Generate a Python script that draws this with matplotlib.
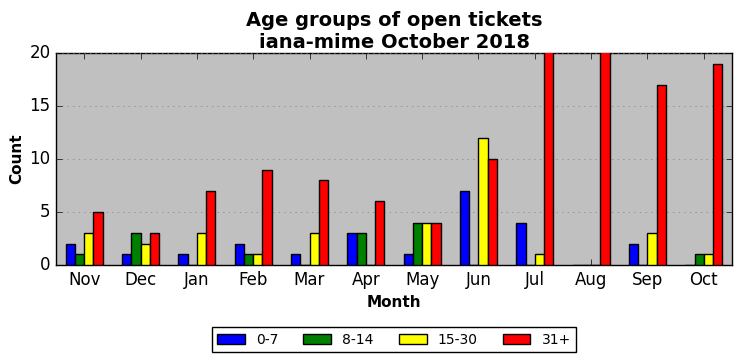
import matplotlib
matplotlib.use("Agg")
import matplotlib.pyplot as plt
import numpy as np

months = ["Nov", "Dec", "Jan", "Feb", "Mar", "Apr", "May", "Jun", "Jul", "Aug", "Sep", "Oct"]
age_0_7 = [2, 1, 1, 2, 1, 3, 1, 7, 4, 0, 2, 0]
age_8_14 = [1, 3, 0, 1, 0, 3, 4, 0, 0, 0, 0, 1]
age_15_30 = [3, 2, 3, 1, 3, 0, 4, 12, 1, 0, 3, 1]
age_31_plus = [5, 3, 7, 9, 8, 6, 4, 10, 24, 26, 17, 19]

series = [
    ("0-7", age_0_7, "blue"),
    ("8-14", age_8_14, "green"),
    ("15-30", age_15_30, "yellow"),
    ("31+", age_31_plus, "red"),
]

plt.style.use("classic")
fig = plt.figure(figsize=(7.42, 3.61), dpi=100)
ax = fig.add_axes([0.0755, 0.266, 0.911, 0.587])
ax.set_facecolor("#c0c0c0")

x = np.arange(len(months))
width = 0.165
for i, (label, values, color) in enumerate(series):
    ax.bar(x + (i - 1.5) * width, values, width, color=color,
           edgecolor="black", linewidth=1, label=label, zorder=3)

ax.set_xlim(-0.5, 11.5)
ax.set_ylim(0, 20)
ax.set_yticks([0, 5, 10, 15, 20])
ax.set_xticks(x)
ax.set_xticklabels(months)
ax.yaxis.grid(True, linestyle=":", color="gray", zorder=0)
ax.tick_params(labelsize=12)

ax.set_title("Age groups of open tickets\niana-mime October 2018",
             fontsize=14, fontweight="bold", pad=4)
ax.set_xlabel("Month", fontsize=11, fontweight="bold")
ax.set_ylabel("Count", fontsize=11, fontweight="bold", labelpad=4)

ax.legend(loc="upper center", bbox_to_anchor=(0.5, -0.26), ncol=4,
          fontsize=10, fancybox=False, framealpha=1, columnspacing=1.8)

fig.savefig("out.png", dpi=100)
plt.close()
